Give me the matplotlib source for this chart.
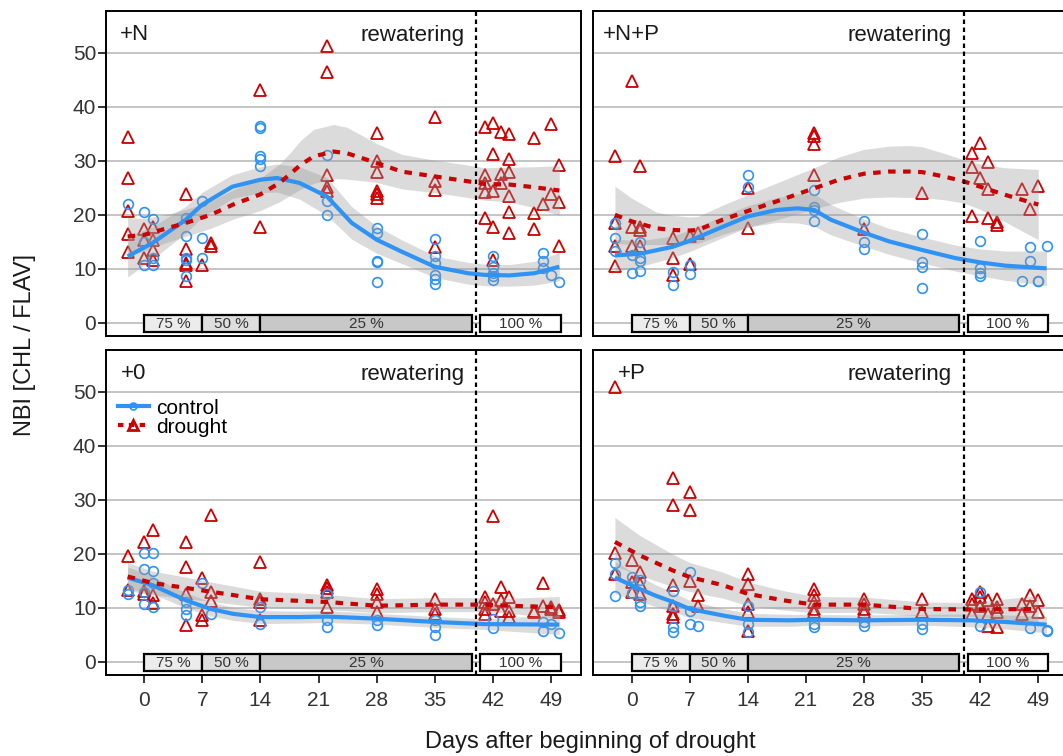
import numpy as np
import matplotlib
matplotlib.use('Agg')
import matplotlib.pyplot as plt
from matplotlib.lines import Line2D
from matplotlib.patches import Rectangle

plt.rcParams['font.family'] = ['Liberation Sans', 'DejaVu Sans']

# raw NBI readings per sampling day (day -> values)
N_CTRL = {-2: [22.0], 0: [20.6, 10.7, 15.0], 1: [19.2, 10.7, 12.0], 5: [19.4, 16.0, 12.0, 11.7, 8.7],
          7: [22.5, 15.7, 12.0], 14: [36.5, 36.0, 30.8, 30.4, 29.0], 22: [31.1, 22.5, 19.9],
          28: [17.5, 16.6, 11.5, 11.2, 7.5], 35: [15.6, 12.3, 11.0, 8.9, 8.1, 7.3],
          42: [12.3, 10.4, 9.2, 8.6, 8.0], 48: [12.9, 11.4, 10.1], 49: [8.8], 50: [7.5]}
N_DRT = {-2: [34.3, 26.9, 20.7, 16.4, 13.1], 0: [17.4, 15.4, 12.0], 1: [17.8, 15.4, 13.5, 11.7],
         5: [23.8, 13.6, 11.0, 10.7, 7.7], 7: [10.7], 8: [14.8, 14.3], 14: [43.0, 17.8],
         22: [51.3, 46.5, 27.3, 25.2, 24.4], 28: [35.1, 30.0, 28.0, 24.4, 23.8, 23.2],
         35: [38.1, 26.2, 24.6, 14.0], 41: [36.2, 27.3, 25.9, 24.3, 19.5], 42: [37.0, 31.3, 24.4, 17.7, 11.7],
         43: [35.4, 27.5, 25.9], 44: [34.9, 30.4, 28.0, 23.4, 20.6, 16.6], 47: [34.2, 20.4, 17.4],
         48: [22.0], 49: [36.8, 23.8], 50: [29.3, 22.3, 14.3]}
NP_CTRL = {-2: [18.5, 15.8, 13.4], 0: [12.6, 9.2], 1: [14.9, 12.0, 11.5, 9.6], 5: [9.4, 7.0], 7: [10.7, 9.0],
           14: [27.3, 25.2], 22: [24.6, 21.5, 20.9, 18.9], 28: [18.9, 14.9, 13.7], 35: [16.5, 11.2, 10.3, 6.4],
           42: [15.1, 10.1, 9.2, 8.6], 47: [7.8], 48: [14.1, 11.5], 49: [7.8, 7.7], 50: [14.3]}
NP_DRT = {-2: [30.8, 18.5, 14.3, 10.6], 0: [44.7, 17.7, 14.3], 1: [29.0, 17.8, 17.2, 14.3], 5: [15.8, 12.0, 8.8],
          7: [16.0, 10.9], 8: [16.6], 14: [24.9, 17.5], 22: [35.1, 34.6, 33.1, 27.4], 28: [17.3], 35: [24.0],
          41: [31.4, 28.8, 19.8], 42: [33.3, 26.9], 43: [29.8, 24.8, 19.5], 44: [18.6, 18.1], 47: [24.8],
          48: [21.0], 49: [25.4]}
Z_CTRL = {-2: [13.3, 12.6], 0: [20.2, 17.1, 12.9, 10.8], 1: [20.2, 16.8, 14.6, 10.1], 5: [11.1, 9.8, 8.6],
          7: [14.6], 8: [8.9], 14: [10.1, 7.0], 22: [12.6, 7.7, 6.4], 28: [7.7, 6.9], 35: [7.7, 6.4, 5.0],
          42: [8.0, 6.2], 48: [7.4, 5.8], 49: [7.0], 50: [5.4]}
Z_DRT = {-2: [19.6, 13.3], 0: [22.2, 13.1, 12.6], 1: [24.4, 12.4, 10.9], 5: [22.2, 17.6, 12.6, 6.9],
         7: [15.6, 8.7, 7.7], 8: [27.1, 12.9, 11.2], 14: [18.5, 11.7, 11.1, 7.7], 22: [14.2, 13.7, 12.9, 10.1],
         28: [13.5, 12.6, 11.1, 9.2], 35: [11.6, 9.8, 8.9], 41: [12.0, 11.1, 9.8, 8.9], 42: [27.0, 10.8],
         43: [13.8, 11.4, 9.5], 44: [12.0, 9.5, 8.3], 47: [9.5, 9.2], 48: [14.6, 10.4], 49: [10.1, 9.8],
         50: [9.6, 9.2]}
P_CTRL = {-2: [18.3, 16.3, 12.2], 0: [15.8, 12.8], 1: [15.1, 11.1, 10.4], 5: [13.2, 10.4, 6.4, 5.5],
          7: [16.6, 9.5, 7.0], 8: [6.7], 14: [10.4, 7.0, 5.5], 22: [7.0, 6.4], 28: [7.4, 6.7], 35: [7.0, 6.1],
          42: [12.9, 6.7], 48: [6.2], 50: [6.0, 5.7]}
P_DRT = {-2: [50.9, 20.2, 16.3], 0: [18.8, 14.8, 12.9], 1: [16.6, 14.5, 12.6], 5: [34.1, 29.1, 14.3, 10.4, 8.9, 8.3],
         7: [31.4, 28.1, 14.9], 8: [12.3, 10.3], 14: [16.3, 14.5, 10.8, 9.2, 5.8], 22: [13.5, 12.3, 11.1, 9.8, 9.3],
         28: [11.7, 10.8, 9.8, 9.2], 35: [11.7, 9.2], 41: [11.7, 10.8, 8.9], 42: [12.9, 12.0, 10.4],
         43: [11.4, 8.9, 6.7], 44: [11.7, 10.1, 9.2, 6.4], 47: [10.8, 8.9], 48: [12.3, 10.4], 49: [11.4, 9.2]}

# smoothed trends (day, fit, half width of confidence band)
N_CTRL_FD = [-2, 1, 5, 7, 10.6, 14, 16, 18.7, 22, 25, 28, 31, 35, 39, 41, 44, 47, 50]
N_CTRL_FIT = [12.3, 14.8, 19.1, 21.9, 25.2, 26.5, 26.8, 25.9, 23.4, 18.5, 15.4, 13.2, 10.4, 9.2, 8.9, 8.8, 9.2, 10.4]
N_CTRL_SE = [3.8, 3.0, 2.5, 2.3, 2.2, 2.4, 2.6, 3.0, 3.5, 3.0, 2.5, 2.2, 2.0, 2.0, 2.0, 2.0, 2.2, 2.6]
N_DRT_FD = [-2, 0, 2.7, 5, 8, 10.7, 14, 16.3, 17.7, 18.8, 20.4, 22.8, 24.4, 28, 31, 35, 39, 41, 44, 47, 50]
N_DRT_FIT = [16.0, 16.3, 17.5, 18.5, 20.0, 21.9, 23.8, 25.9, 27.7, 29.2, 30.8, 31.7, 31.4, 29.6, 28.0, 27.1,
             26.2, 25.7, 25.6, 25.1, 24.5]
N_DRT_SE = [3.5, 3.0, 2.6, 2.5, 2.5, 2.7, 3.0, 3.5, 4.0, 4.5, 5.0, 5.0, 4.8, 3.6, 3.2, 3.0, 3.0, 3.0, 3.2, 3.8, 4.6]

NP_CTRL_FD = [-2, 1, 5, 7, 11, 14, 17.5, 20, 22, 24, 28, 31, 35, 39, 42, 45, 50]
NP_CTRL_FIT = [12.5, 12.8, 14.1, 15.2, 17.8, 19.7, 20.9, 21.2, 20.9, 19.1, 16.7, 15.1, 13.5, 12.0, 11.2, 10.6, 10.1]
NP_CTRL_SE = [3.0, 2.4, 2.0, 2.0, 2.0, 2.0, 2.3, 2.7, 3.0, 2.8, 2.5, 2.4, 2.4, 2.4, 2.5, 2.7, 3.2]
NP_DRT_FD = [-2, 0, 3, 5, 7, 8, 11, 14, 17.5, 22, 25, 28, 31, 33.5, 35, 37.6, 40, 42, 45, 49]
NP_DRT_FIT = [20.0, 18.8, 17.5, 17.2, 17.1, 17.2, 19.1, 20.7, 22.5, 24.9, 26.5, 27.6, 28.0, 28.0, 27.9, 27.1,
              26.2, 25.2, 23.7, 21.9]
NP_DRT_SE = [5.3, 4.3, 3.0, 2.7, 2.5, 2.5, 2.7, 3.0, 3.4, 3.8, 4.2, 4.5, 4.7, 4.8, 4.7, 4.3, 4.0, 4.2, 5.0, 6.5]

Z_CTRL_FD = [-2, 1, 3, 5, 8, 10.7, 14, 18.8, 22, 28, 35, 41, 50]
Z_CTRL_FIT = [15.6, 14.2, 12.8, 11.4, 9.8, 8.9, 8.3, 8.3, 8.4, 8.0, 7.4, 7.0, 6.9]
Z_CTRL_SE = [2.0, 1.6, 1.5, 1.4, 1.3, 1.2, 1.2, 1.1, 1.1, 1.0, 1.0, 1.0, 1.8]
Z_DRT_FD = [-2, 1, 5, 8, 14, 22, 28, 35, 41, 44, 50]
Z_DRT_FIT = [15.8, 14.6, 13.7, 13.0, 11.6, 11.1, 10.4, 10.6, 10.6, 10.4, 10.1]
Z_DRT_SE = [2.6, 2.2, 2.0, 1.8, 1.5, 1.4, 1.3, 1.3, 1.3, 1.4, 2.0]

P_CTRL_FD = [-2, 1, 3, 5, 7, 11, 14, 19, 22, 28, 35, 41, 45, 50]
P_CTRL_FIT = [15.6, 13.5, 12.2, 11.1, 9.8, 8.6, 7.8, 7.7, 7.8, 7.7, 7.8, 7.7, 7.4, 6.9]
P_CTRL_SE = [3.0, 2.3, 2.0, 1.8, 1.6, 1.3, 1.2, 1.1, 1.0, 1.0, 1.0, 1.2, 1.3, 1.5]
P_DRT_FD = [-2, 1, 5, 7, 11, 14, 18.3, 22, 28, 35, 41, 49]
P_DRT_FIT = [22.2, 19.7, 16.9, 15.7, 14.2, 12.6, 11.4, 10.6, 10.6, 9.8, 9.7, 9.8]
P_DRT_SE = [4.5, 3.7, 3.0, 2.7, 2.4, 2.2, 1.8, 1.5, 1.4, 1.3, 1.3, 2.5]

# watering regime bars (start day, end day, label)
PHASE_START = [0, 7, 14, 40.5]
PHASE_END = [7, 14, 39.5, 50.2]
PHASE_LABEL = ['75 %', '50 %', '25 %', '100 %']
PHASE_FILL = ['#ececec', '#dedede', '#c8c8c8', 'white']
REWATER_DAY = 40

XTICKS = [0, 7, 14, 21, 28, 35, 42, 49]
YTICKS = [0, 10, 20, 30, 40, 50]

BLUE = '#2f93f5'
RED = '#cc0000'

panels = [
    ('+N', N_CTRL, N_DRT, (N_CTRL_FD, N_CTRL_FIT, N_CTRL_SE), (N_DRT_FD, N_DRT_FIT, N_DRT_SE), 0.030),
    ('+N+P', NP_CTRL, NP_DRT, (NP_CTRL_FD, NP_CTRL_FIT, NP_CTRL_SE), (NP_DRT_FD, NP_DRT_FIT, NP_DRT_SE), 0.020),
    ('+0', Z_CTRL, Z_DRT, (Z_CTRL_FD, Z_CTRL_FIT, Z_CTRL_SE), (Z_DRT_FD, Z_DRT_FIT, Z_DRT_SE), 0.031),
    ('+P', P_CTRL, P_DRT, (P_CTRL_FD, P_CTRL_FIT, P_CTRL_SE), (P_DRT_FD, P_DRT_FIT, P_DRT_SE), 0.052),
]
rects = [[0.0997, 0.5549, 0.4466, 0.4306], [0.5581, 0.5549, 0.4466, 0.4306],
         [0.0997, 0.1065, 0.4466, 0.4306], [0.5581, 0.1065, 0.4466, 0.4306]]

fig = plt.figure(figsize=(10.63, 7.56), dpi=100)

for i, (name, ctrl, drt, cfit, dfit, tx) in enumerate(panels):
    ax = fig.add_axes(rects[i])
    ax.set_xlim(-4.61, 52.58)
    ax.set_ylim(-2.5, 57.7)
    for y in YTICKS:
        ax.axhline(y, color='#c4c4c4', lw=1.4, zorder=0)

    for d, vals in drt.items():
        ax.plot([d] * len(vals), vals, ls='none', marker='^', ms=8, mfc='none', mec=RED, mew=1.3, zorder=2)
    for d, vals in ctrl.items():
        ax.plot([d] * len(vals), vals, ls='none', marker='o', ms=7, mfc='none', mec=BLUE, mew=1.2, zorder=2)

    for (fd, fv, se) in (cfit, dfit):
        fd = np.array(fd); fv = np.array(fv); se = np.array(se)
        ax.fill_between(fd, fv - se, fv + se, color='#999999', alpha=0.35, lw=0, zorder=3)
    fd, fv, se = cfit
    ax.plot(fd, fv, color=BLUE, lw=3, solid_capstyle='butt', zorder=4)
    fd, fv, se = dfit
    ax.plot(fd, fv, color=RED, lw=3, ls=(0, (1.8, 1.8)), dash_capstyle='butt', zorder=4)

    for s, e, lab, fc in zip(PHASE_START, PHASE_END, PHASE_LABEL, PHASE_FILL):
        ax.add_patch(Rectangle((s, -1.7), e - s, 3.2, facecolor=fc, edgecolor='black', lw=1.6, zorder=5))
        ax.text((s + e) / 2, -0.15, lab, ha='center', va='center', fontsize=11, color='#333333', zorder=6)

    ax.axvline(REWATER_DAY, color='black', lw=1.6, ls=(0, (2, 1.6)), zorder=6)
    ax.text(38.6, 52.2, 'rewatering', ha='right', va='baseline', fontsize=16, color='#1a1a1a')
    ax.text(tx, 52.3, name, transform=ax.get_yaxis_transform(), ha='left', va='baseline',
            fontsize=16, color='#1a1a1a')

    for sp in ax.spines.values():
        sp.set_linewidth(1.4)
        sp.set_color('black')
    ax.set_xticks(XTICKS)
    ax.set_yticks(YTICKS)
    ax.tick_params(length=5.5, width=1.4, color='#333333', labelsize=15, labelcolor='#333333')
    ax.tick_params(axis='x', pad=6)
    ax.tick_params(axis='y', pad=1.5)
    if i < 2:
        ax.tick_params(axis='x', bottom=False, labelbottom=False)
    if i % 2 == 1:
        ax.tick_params(axis='y', left=False, labelleft=False)

    if name == '+0':
        handles = [Line2D([], [], color=BLUE, lw=3, marker='o', ms=5, mfc='none', mec=BLUE, mew=1.2),
                   Line2D([], [], color=RED, lw=3, ls=(0, (1.3, 1.3)), marker='^', ms=7, mfc='none',
                          mec=RED, mew=2)]
        ax.legend(handles, ['control', 'drought'], loc='upper left', bbox_to_anchor=(0.025, 0.85),
                  frameon=False, fontsize=15, handlelength=1.5, handletextpad=0.35, labelspacing=0.0,
                  borderpad=0, borderaxespad=0)

fig.text(0.0235, 0.543, 'NBI [CHL / FLAV]', rotation=90, ha='center', va='center', fontsize=17,
         color='#1a1a1a')
fig.text(0.555, 0.0185, 'Days after beginning of drought', ha='center', va='center', fontsize=17,
         color='#1a1a1a')

fig.savefig('out.png', dpi=100)
